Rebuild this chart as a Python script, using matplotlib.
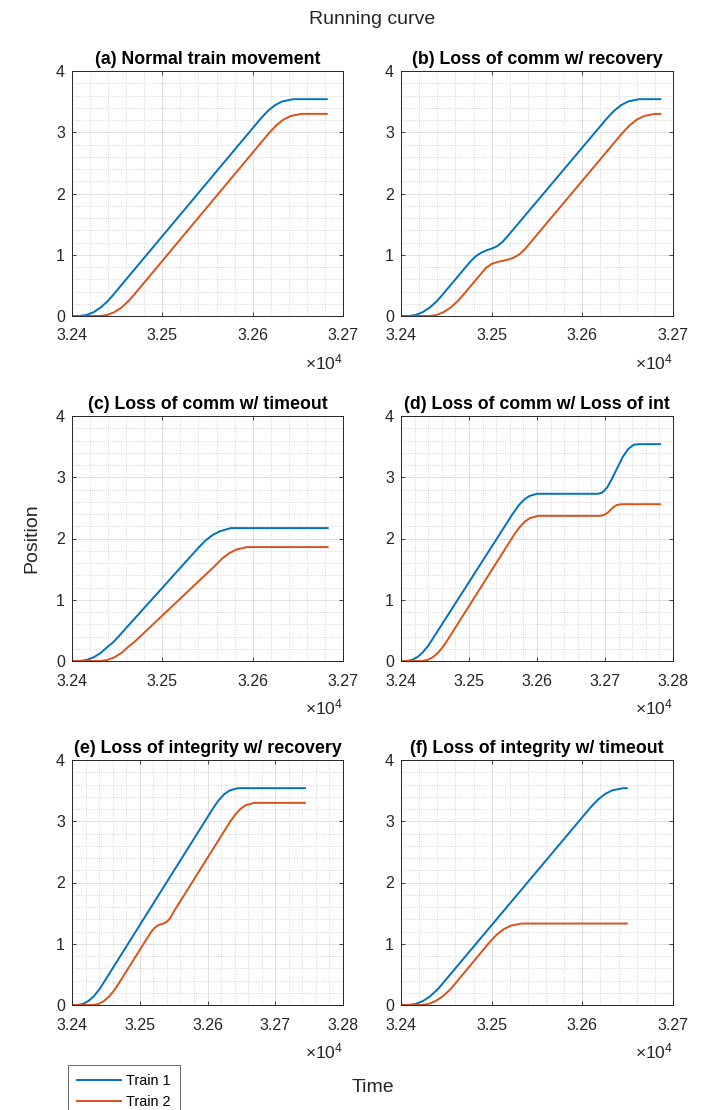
# Running curve of two trains for six operating scenarios

import matplotlib
matplotlib.use('Agg')
import matplotlib.pyplot as plt
from matplotlib.ticker import MultipleLocator, FuncFormatter

plt.rcParams['font.family'] = ['Liberation Sans', 'DejaVu Sans']
plt.rcParams['mathtext.fontset'] = 'custom'
plt.rcParams['mathtext.rm'] = 'Liberation Sans'

# (a) normal train movement
t_a1 = [32400, 32408, 32416, 32424, 32432, 32440, 32444, 32609, 32617, 32625, 32633, 32645, 32682]
y_a1 = [0, 0, 0.016, 0.063, 0.141, 0.25, 0.317, 3.225, 3.35, 3.445, 3.505, 3.54, 3.54]
t_a2 = [32400, 32431, 32439, 32447, 32455, 32463, 32467, 32618, 32626, 32634, 32642, 32654, 32682]
y_a2 = [0, 0, 0.016, 0.063, 0.141, 0.25, 0.317, 2.985, 3.11, 3.205, 3.265, 3.30, 3.30]

# (b) loss of comm with recovery
t_b1 = [32400, 32408, 32416, 32424, 32432, 32440, 32444, 32476, 32482, 32488, 32494, 32500, 32506,
        32512, 32518, 32627, 32635, 32643, 32651, 32663, 32686]
y_b1 = [0, 0, 0.016, 0.063, 0.141, 0.25, 0.317, 0.88, 0.97, 1.03, 1.07, 1.10, 1.14,
        1.21, 1.31, 3.225, 3.35, 3.445, 3.505, 3.54, 3.54]
t_b2 = [32400, 32431, 32439, 32447, 32455, 32463, 32467, 32494, 32500, 32506, 32512, 32518, 32524,
        32530, 32536, 32644, 32652, 32660, 32668, 32680, 32686]
y_b2 = [0, 0, 0.016, 0.063, 0.141, 0.25, 0.317, 0.79, 0.85, 0.88, 0.90, 0.92, 0.95,
        1.0, 1.08, 2.985, 3.11, 3.205, 3.265, 3.30, 3.30]

# (c) loss of comm with timeout
t_c1 = [32400, 32408, 32416, 32424, 32432, 32440, 32446, 32540, 32548, 32556, 32564, 32576, 32683]
y_c1 = [0, 0, 0.015, 0.06, 0.135, 0.24, 0.31, 1.85, 1.97, 2.06, 2.12, 2.17, 2.17]
t_c2 = [32400, 32431, 32439, 32447, 32455, 32463, 32469, 32558, 32566, 32574, 32582, 32594, 32683]
y_c2 = [0, 0, 0.015, 0.06, 0.135, 0.24, 0.31, 1.55, 1.67, 1.76, 1.82, 1.86, 1.86]

# (d) loss of comm with loss of integrity
t_d1 = [32400, 32408, 32416, 32424, 32432, 32440, 32444, 32565, 32573, 32581, 32589, 32600, 32690,
        32696, 32703, 32710, 32718, 32726, 32734, 32742, 32750, 32781]
y_d1 = [0, 0, 0.016, 0.063, 0.141, 0.25, 0.317, 2.415, 2.54, 2.635, 2.695, 2.73, 2.73,
        2.75, 2.83, 2.97, 3.15, 3.33, 3.46, 3.53, 3.54, 3.54]
t_d2 = [32400, 32431, 32439, 32447, 32455, 32463, 32467, 32566, 32574, 32582, 32590, 32602, 32693,
        32699, 32705, 32711, 32717, 32724, 32781]
y_d2 = [0, 0, 0.016, 0.063, 0.141, 0.25, 0.317, 2.055, 2.18, 2.275, 2.335, 2.37, 2.37,
        2.385, 2.43, 2.5, 2.545, 2.56, 2.56]

# (e) loss of integrity with recovery
t_e1 = [32400, 32408, 32416, 32424, 32432, 32440, 32444, 32609, 32617, 32625, 32633, 32645, 32744]
y_e1 = [0, 0, 0.016, 0.063, 0.141, 0.25, 0.317, 3.225, 3.35, 3.445, 3.505, 3.54, 3.54]
t_e2 = [32400, 32431, 32439, 32447, 32455, 32463, 32467, 32514, 32518, 32522, 32526, 32530, 32535,
        32540, 32545, 32550, 32633, 32641, 32649, 32657, 32669, 32744]
y_e2 = [0, 0, 0.016, 0.063, 0.141, 0.25, 0.317, 1.145, 1.21, 1.26, 1.295, 1.315, 1.33,
        1.36, 1.42, 1.52, 2.985, 3.11, 3.205, 3.265, 3.30, 3.30]

# (f) loss of integrity with timeout
t_f1 = [32400, 32408, 32416, 32424, 32432, 32440, 32444, 32609, 32617, 32625, 32633, 32645, 32649]
y_f1 = [0, 0, 0.016, 0.063, 0.141, 0.25, 0.317, 3.225, 3.35, 3.445, 3.505, 3.54, 3.54]
t_f2 = [32400, 32422, 32430, 32438, 32446, 32454, 32458, 32497, 32505, 32513, 32521, 32533, 32649]
y_f2 = [0, 0, 0.016, 0.063, 0.141, 0.25, 0.317, 1.013, 1.14, 1.235, 1.295, 1.33, 1.33]

titles = ['(a) Normal train movement', '(b) Loss of comm w/ recovery',
          '(c) Loss of comm w/ timeout', '(d) Loss of comm w/ Loss of int',
          '(e) Loss of integrity w/ recovery', '(f) Loss of integrity w/ timeout']
series = [(t_a1, y_a1, t_a2, y_a2), (t_b1, y_b1, t_b2, y_b2), (t_c1, y_c1, t_c2, y_c2),
          (t_d1, y_d1, t_d2, y_d2), (t_e1, y_e1, t_e2, y_e2), (t_f1, y_f1, t_f2, y_f2)]
xmax = [32700, 32700, 32700, 32800, 32800, 32700]
labels = ['Train 1', 'Train 2']

blue = '#0072BD'
orange = '#D95319'
dark = '#262626'

fig = plt.figure(figsize=(7.02, 11.1), dpi=100)
lefts = [72 / 702, 401 / 702]
widths = [271 / 702, 272 / 702]
bottoms = [1 - 316 / 1110, 1 - 661 / 1110, 1 - 1005 / 1110]
height = 245 / 1110

for i in range(6):
    r, c = divmod(i, 2)
    ax = fig.add_axes([lefts[c], bottoms[r], widths[c], height])
    t1, y1, t2, y2 = series[i]
    ax.plot(t1, y1, color=blue, lw=1.4, label=labels[0])
    ax.plot(t2, y2, color=orange, lw=1.4, label=labels[1])
    ax.set_xlim(32400, xmax[i])
    ax.set_ylim(0, 4)
    ax.xaxis.set_major_locator(MultipleLocator(100))
    ax.xaxis.set_minor_locator(MultipleLocator(20))
    ax.yaxis.set_major_locator(MultipleLocator(1))
    ax.yaxis.set_minor_locator(MultipleLocator(0.2))
    ax.xaxis.set_major_formatter(FuncFormatter(lambda v, p: f'{v / 1e4:.2f}'))
    ax.grid(which='major', color='#dedede', lw=0.7)
    ax.grid(which='minor', color='#cacaca', lw=0.6, ls=':')
    ax.set_axisbelow(True)
    ax.tick_params(which='major', direction='in', length=3, width=0.6, color=dark,
                   top=True, right=True, labelsize=11.5, labelcolor=dark)
    ax.tick_params(axis='x', pad=9)
    ax.tick_params(axis='y', pad=5)
    ax.tick_params(which='minor', length=0)
    for s in ax.spines.values():
        s.set_color(dark)
        s.set_linewidth(0.7)
    ax.set_title(titles[i], fontsize=12.8, fontweight='bold', pad=5)
    ax.text(1, -0.19, r'$\times\mathregular{10^4}$', transform=ax.transAxes,
            ha='right', va='center', fontsize=12.5, color=dark)
    if i == 0:
        handles = ax.get_lines()

fig.text(372.5 / 702, 1 - 20 / 1110, 'Running curve', ha='center', va='center', fontsize=14, color=dark)
fig.text(32 / 702, 1 - 538 / 1110, 'Position', ha='center', va='center', rotation=90, fontsize=14, color=dark)
fig.text(372.5 / 702, 1 - 1088 / 1110, 'Time', ha='center', va='center', fontsize=14, color=dark)

leg = fig.legend(handles, labels, loc='upper left', bbox_to_anchor=(68 / 702, 1 - 1065 / 1110),
                 bbox_transform=fig.transFigure, fontsize=10.4, frameon=True, fancybox=False,
                 handlelength=3.1, handletextpad=0.35, borderpad=0.6, labelspacing=0.5,
                 borderaxespad=0)
leg.get_frame().set_edgecolor(dark)
leg.get_frame().set_linewidth(0.6)

fig.savefig('out.png', dpi=100)
